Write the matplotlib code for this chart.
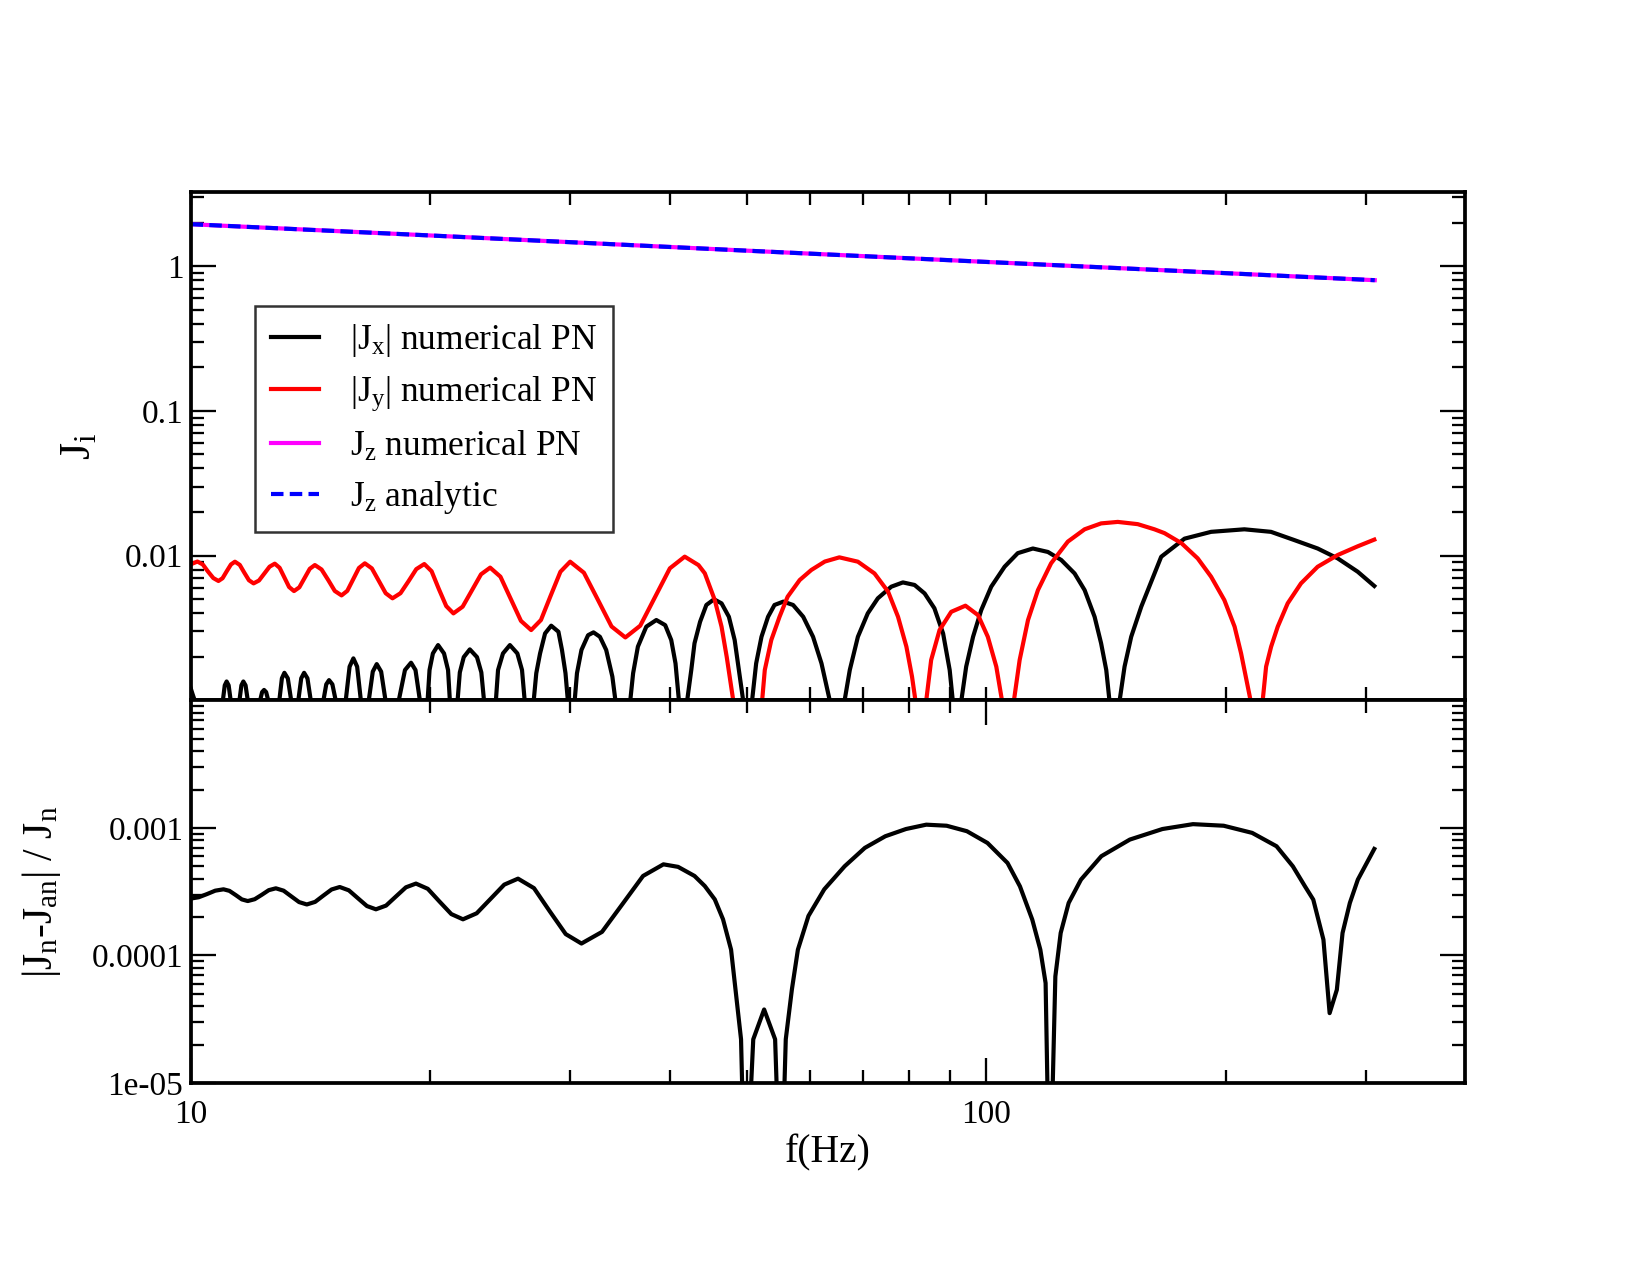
import matplotlib
matplotlib.use('Agg')
import matplotlib.pyplot as plt
from matplotlib.ticker import FixedLocator, NullFormatter

plt.rcParams['font.family'] = ['Liberation Serif', 'DejaVu Serif']
plt.rcParams['mathtext.fontset'] = 'custom'
plt.rcParams['mathtext.rm'] = 'Liberation Serif'
plt.rcParams['mathtext.it'] = 'Liberation Serif:italic'
plt.rcParams['mathtext.bf'] = 'Liberation Serif:bold'

# ---------------- data ----------------
jz_f = [10.0, 20.0, 50.0, 100.0, 200.0, 308.0]
jz_num = [1.95, 1.63, 1.28, 1.07, 0.895, 0.80]
jz_an = [1.95, 1.63, 1.28, 1.07, 0.895, 0.80]

# |Jx| numerical PN (values below 1e-3 fall outside the panel)
jx_f = [10.0, 10.06, 10.12, 10.55,
        10.98, 11.04, 11.10, 11.165, 11.23, 11.37,
        11.52, 11.585, 11.65, 11.725, 11.80, 12.0,
        12.23, 12.30, 12.37, 12.445, 12.52, 12.72,
        12.93, 13.025, 13.12, 13.25, 13.38, 13.52,
        13.66, 13.775, 13.89, 14.025, 14.16, 14.42,
        14.69, 14.81, 14.93, 15.075, 15.22, 15.44,
        15.67, 15.845, 16.02, 16.195, 16.37, 16.56,
        16.75, 16.945, 17.14, 17.36, 17.58, 17.92,
        18.27, 18.6, 18.93, 19.175, 19.42, 19.64,
        19.86, 19.97, 20.165, 20.47, 20.825, 21.07, 21.18, 21.42,
        21.66, 21.80, 22.05, 22.44, 22.91, 23.20, 23.38, 23.78,
        24.2, 24.35, 24.7, 25.2, 25.75, 26.1, 26.3, 26.65,
        27.0, 27.2, 27.5, 27.9, 28.4, 29.0, 29.3, 29.6, 29.8, 30.1,
        30.4, 30.6, 31.0, 31.6, 32.1, 32.7, 33.3, 33.9, 34.2, 34.9,
        35.7, 36.0, 36.5, 37.4, 38.5, 39.5, 40.2, 40.7, 41.1, 41.6,
        42.1, 42.6, 43.0, 43.7, 44.5, 45.5, 46.5, 47.5, 48.3, 48.9, 49.5, 50.1,
        50.8, 51.4, 52.2, 53.2, 54.2, 55.6, 57.2, 58.9, 60.6, 62.1, 63.6, 65.0,
        66.4, 67.4, 69.0, 71.0, 73.1, 76.0, 78.6, 81.3, 83.7, 86.1, 88.3, 90.0, 90.8, 91.9,
        93.1, 94.4, 96.3, 98.6, 101.5, 105.5, 109.6, 114.5, 119.6, 124.3, 129.2, 133.0,
        136.9, 139.5, 141.6, 142.9, 145.0,
        147.2, 149.3, 152.2, 156.7, 162.8, 166.0, 177.6, 191.8, 211.2, 228.1, 244.1,
        261.1, 276.7, 293.2, 307.6]
jx_v = [1.22e-3, 1.1e-3, 1.0e-3, 3e-4,
        1e-3, 1.27e-3, 1.35e-3, 1.27e-3, 1e-3, 3e-4,
        1e-3, 1.27e-3, 1.35e-3, 1.27e-3, 1e-3, 3e-4,
        1e-3, 1.14e-3, 1.18e-3, 1.14e-3, 1e-3, 3e-4,
        1e-3, 1.42e-3, 1.55e-3, 1.42e-3, 1e-3, 3e-4,
        1e-3, 1.42e-3, 1.55e-3, 1.42e-3, 1e-3, 3e-4,
        1e-3, 1.29e-3, 1.38e-3, 1.29e-3, 1e-3, 3e-4,
        1e-3, 1.71e-3, 1.95e-3, 1.71e-3, 1e-3, 3e-4,
        1e-3, 1.58e-3, 1.78e-3, 1.58e-3, 1e-3, 3e-4,
        1e-3, 1.62e-3, 1.82e-3, 1.62e-3, 1e-3, 3e-4,
        1e-3, 1.62e-3, 2.11e-3, 2.41e-3, 2.11e-3, 1.62e-3, 1e-3, 3e-4,
        1e-3, 1.56e-3, 1.99e-3, 2.25e-3, 1.99e-3, 1.56e-3, 1e-3, 3e-4,
        1e-3, 1.62e-3, 2.11e-3, 2.41e-3, 2.11e-3, 1.62e-3, 1e-3, 3e-4,
        1e-3, 1.54e-3, 2.11e-3, 2.90e-3, 3.28e-3, 2.98e-3, 2.23e-3, 1.54e-3, 1e-3, 3e-4,
        1e-3, 1.54e-3, 2.23e-3, 2.82e-3, 2.95e-3, 2.75e-3, 2.23e-3, 1.46e-3, 1e-3, 3e-4,
        1e-3, 1.54e-3, 2.35e-3, 3.23e-3, 3.59e-3, 3.31e-3, 2.61e-3, 1.80e-3, 1e-3, 3e-4,
        1e-3, 1.62e-3, 2.48e-3, 3.49e-3, 4.56e-3, 4.99e-3, 4.68e-3, 3.78e-3, 2.61e-3, 1.62e-3, 1e-3, 3e-4,
        1e-3, 1.80e-3, 2.75e-3, 3.78e-3, 4.56e-3, 4.81e-3, 4.56e-3, 3.78e-3, 2.75e-3, 1.80e-3, 1e-3, 3e-4,
        1e-3, 1.62e-3, 2.75e-3, 3.99e-3, 5.07e-3, 6.10e-3, 6.53e-3, 6.27e-3, 5.48e-3, 4.33e-3, 2.90e-3, 1.62e-3, 1e-3, 3e-4,
        1e-3, 1.71e-3, 2.75e-3, 4.20e-3, 6.10e-3, 8.38e-3, 1.04e-2, 1.12e-2, 1.06e-2, 9.33e-3, 7.53e-3, 5.78e-3,
        3.78e-3, 2.48e-3, 1.62e-3, 1e-3, 3e-4,
        1e-3, 1.71e-3, 2.75e-3, 4.44e-3, 7.53e-3, 9.82e-3, 1.31e-2, 1.46e-2, 1.52e-2, 1.46e-2, 1.28e-2,
        1.12e-2, 9.57e-3, 7.74e-3, 6.17e-3]

# |Jy| numerical PN
jy_f = [10.0, 10.2, 10.36, 10.51, 10.68, 10.84, 10.97, 11.10, 11.24, 11.37,
        11.53, 11.68, 11.84, 12.0, 12.19, 12.38, 12.57, 12.76, 12.94, 13.12,
        13.30, 13.49, 13.70, 13.91, 14.12, 14.33, 14.61, 14.90, 15.18, 15.48,
        15.74, 16.01, 16.28, 16.56, 16.90, 17.24, 17.59, 17.94, 18.36, 18.79,
        19.22, 19.67, 20.09, 20.51, 20.96, 21.4, 21.98, 22.57, 23.18, 23.8,
        24.52, 25.26, 26.02, 26.8, 27.57, 28.35, 29.17, 30.0, 31.22, 32.50,
        33.82, 35.2, 36.75, 38.36, 40.04, 41.8, 43.5, 44.3, 45.6, 46.5, 47.2, 48.1,
        50.2, 52.3, 52.7, 53.7, 55.0, 56.3, 58.3, 60.3, 62.7, 65.4, 69.0, 72.4,
        75.3, 77.5, 79.4, 80.7, 81.5, 82.8,
        84.1, 85.3, 87.4, 90.4, 94.2, 97.7, 100.5, 103.0, 104.7, 106.6,
        108.4, 110.2, 112.9, 116.2, 120.7, 126.7, 133.0, 139.5, 146.4, 155.1,
        162.8, 167.6, 176.0, 184.5, 191.8, 199.3, 205.3, 209.2, 213.3, 215.0, 218.8,
        222.7, 224.9, 228.2, 232.6, 239.4, 248.8, 261.1, 276.7, 293.2, 307.6]
jy_v = [8.7e-3, 9.1e-3, 8.69e-3, 7.80e-3, 7.00e-3, 6.68e-3, 6.98e-3, 7.78e-3, 8.69e-3, 9.08e-3,
        8.63e-3, 7.64e-3, 6.76e-3, 6.43e-3, 6.73e-3, 7.52e-3, 8.39e-3, 8.8e-3, 8.24e-3, 7.07e-3,
        6.07e-3, 5.69e-3, 6.04e-3, 7.00e-3, 8.11e-3, 8.61e-3, 8.02e-3, 6.76e-3, 5.70e-3, 5.31e-3,
        5.71e-3, 6.85e-3, 8.22e-3, 8.85e-3, 8.16e-3, 6.70e-3, 5.50e-3, 5.07e-3, 5.50e-3, 6.65e-3,
        8.07e-3, 8.75e-3, 7.80e-3, 5.90e-3, 4.48e-3, 3.99e-3, 4.44e-3, 5.74e-3, 7.43e-3, 8.26e-3,
        7.15e-3, 5.02e-3, 3.54e-3, 3.06e-3, 3.59e-3, 5.27e-3, 7.74e-3, 9.08e-3, 7.62e-3, 4.97e-3,
        3.24e-3, 2.72e-3, 3.28e-3, 5.18e-3, 8.17e-3, 9.84e-3, 8.6e-3, 7.55e-3, 4.93e-3, 3.23e-3, 2.0e-3, 1e-3,
        2e-4, 1e-3, 1.62e-3, 2.61e-3, 3.78e-3, 5.2e-3, 6.78e-3, 7.96e-3, 9.1e-3, 9.73e-3, 9.08e-3, 7.53e-3,
        5.64e-3, 3.78e-3, 2.35e-3, 1.46e-3, 1e-3, 2e-4,
        1e-3, 1.90e-3, 3.06e-3, 4.09e-3, 4.51e-3, 3.88e-3, 2.75e-3, 1.71e-3, 1e-3, 2e-4,
        1e-3, 1.90e-3, 3.59e-3, 5.78e-3, 8.85e-3, 1.25e-2, 1.52e-2, 1.67e-2, 1.71e-2, 1.65e-2,
        1.52e-2, 1.43e-2, 1.22e-2, 9.57e-3, 7.15e-3, 4.93e-3, 3.23e-3, 2.11e-3, 1.24e-3, 1e-3, 2e-4,
        1e-3, 1.71e-3, 2.35e-3, 3.23e-3, 4.68e-3, 6.43e-3, 8.38e-3, 1.01e-2, 1.16e-2, 1.29e-2]

# |Jn - Jan| / Jn
err_f = [10.0, 10.24, 10.49, 10.74, 11.0, 11.19, 11.40, 11.60, 11.8, 12.04,
         12.29, 12.54, 12.8, 13.09, 13.39, 13.69, 14.0, 14.34, 14.68, 15.04,
         15.4, 15.81, 16.23, 16.66, 17.1, 17.61, 18.12, 18.65, 19.2, 19.87,
         20.55, 21.27, 22.0, 22.89, 23.82, 24.79, 25.8, 27.02, 28.28, 29.62,
         31.0, 32.90, 34.91, 37.05, 39.3, 41.0, 43.0, 44.3, 45.6, 46.7, 47.8, 49.2,
         49.8, 50.97, 52.6, 54.3, 55.2, 56.0, 57.0, 58.0, 59.8, 62.6, 66.4, 70.4,
         74.7, 79.3, 84.1, 89.2, 94.6, 100.4, 106.4, 110.3, 114.3, 117.0, 118.8, 120.2,
         122.2, 124.1, 127.0, 131.6, 139.6, 151.6, 166.6, 182.0, 198.9, 216.0, 231.8, 243.0,
         251.7, 257.8, 265.5, 270.3, 276.0, 280.6, 286.6, 293.3, 307.6]
err_v = [2.79e-4, 2.86e-4, 3.03e-4, 3.22e-4, 3.30e-4, 3.21e-4, 2.97e-4, 2.75e-4, 2.67e-4, 2.76e-4,
         2.99e-4, 3.25e-4, 3.36e-4, 3.22e-4, 2.90e-4, 2.62e-4, 2.51e-4, 2.63e-4, 2.94e-4, 3.29e-4,
         3.44e-4, 3.24e-4, 2.81e-4, 2.44e-4, 2.30e-4, 2.46e-4, 2.90e-4, 3.42e-4, 3.66e-4, 3.33e-4,
         2.65e-4, 2.11e-4, 1.92e-4, 2.14e-4, 2.77e-4, 3.59e-4, 4.0e-4, 3.37e-4, 2.22e-4, 1.47e-4,
         1.24e-4, 1.53e-4, 2.53e-4, 4.2e-4, 5.18e-4, 4.95e-4, 4.2e-4, 3.5e-4, 2.75e-4, 1.92e-4, 1.11e-4, 2.2e-5,
         1e-6, 2.2e-5, 3.77e-5, 2.2e-5, 1e-6, 2.2e-5, 5.41e-5, 1.11e-4, 2.04e-4, 3.3e-4, 5.0e-4, 6.97e-4,
         8.6e-4, 9.8e-4, 1.06e-3, 1.04e-3, 9.42e-4, 7.62e-4, 5.31e-4, 3.48e-4, 1.91e-4, 1.11e-4, 6.07e-5, 1e-6,
         6.85e-5, 1.5e-4, 2.58e-4, 3.93e-4, 6.0e-4, 8.1e-4, 9.8e-4, 1.07e-3, 1.04e-3, 9.14e-4, 7.18e-4, 5.0e-4,
         3.48e-4, 2.74e-4, 1.33e-4, 3.53e-5, 5.38e-5, 1.5e-4, 2.58e-4, 3.93e-4, 6.84e-4]

legend_labels = [r'$|\mathrm{J_x}|$ numerical PN', r'$|\mathrm{J_y}|$ numerical PN',
                 r'$\mathrm{J_z}$ numerical PN', r'$\mathrm{J_z}$ analytic']
xtick_major = [10, 100]
xtick_labels = ['10', '100']
xtick_minor = [20, 30, 40, 50, 60, 70, 80, 90, 200, 300]
top_yticks = [0.01, 0.1, 1]
top_ylabels = ['0.01', '0.1', '1']
bot_yticks = [1e-5, 1e-4, 1e-3]
bot_ylabels = ['1e-05', '0.0001', '0.001']

# ---------------- figure ----------------
fig = plt.figure(figsize=(11, 8.5), dpi=150)
ax1 = fig.add_axes([0.1155, 0.4507, 0.7724, 0.3991])
ax2 = fig.add_axes([0.1155, 0.1506, 0.7724, 0.3001])

LW = 2.0
ax1.plot(jx_f, jx_v, color='black', lw=LW, label=legend_labels[0])
ax1.plot(jy_f, jy_v, color='#ff0000', lw=LW, label=legend_labels[1])
ax1.plot(jz_f, jz_num, color='#ff00ff', lw=LW, label=legend_labels[2])
ax1.plot(jz_f, jz_an, color='#0000ff', lw=LW, dashes=(3, 1.5), label=legend_labels[3])
ax2.plot(err_f, err_v, color='black', lw=LW)

for ax in (ax1, ax2):
    ax.set_xscale('log')
    ax.set_yscale('log')
    ax.set_xlim(10, 400)
    ax.xaxis.set_major_locator(FixedLocator(xtick_major))
    ax.xaxis.set_minor_locator(FixedLocator(xtick_minor))
    ax.xaxis.set_minor_formatter(NullFormatter())
    ax.yaxis.set_minor_formatter(NullFormatter())
    for s in ax.spines.values():
        s.set_linewidth(1.8)
    ax.tick_params(which='both', direction='in', top=True, right=True, width=1.1,
                   labelsize=16)
    ax.tick_params(which='major', length=12)
    ax.tick_params(which='minor', length=6.3)

ax1.set_ylim(1e-3, 3.28)
ax1.set_xticklabels([])
ax1.tick_params(axis='x', which='major', length=6.3)
ax1.yaxis.set_major_locator(FixedLocator(top_yticks))
ax1.set_yticklabels(top_ylabels)
ax1.yaxis.set_minor_locator(FixedLocator(
    [k * 1e-3 for k in range(2, 10)] + [k * 1e-2 for k in range(2, 10)] +
    [k * 1e-1 for k in range(2, 10)] + [2, 3]))

ax2.set_ylim(1e-5, 1e-2)
ax2.set_xticks(xtick_major)
ax2.set_xticklabels(xtick_labels)
ax2.yaxis.set_major_locator(FixedLocator(bot_yticks))
ax2.set_yticklabels(bot_ylabels)
ax2.yaxis.set_minor_locator(FixedLocator(
    [k * 1e-5 for k in range(2, 10)] + [k * 1e-4 for k in range(2, 10)] +
    [k * 1e-3 for k in range(2, 10)]))
ax2.tick_params(axis='x', which='major', pad=8)

ax1.set_ylabel(r'$\mathrm{J_i}$', fontsize=21)
ax1.yaxis.set_label_coords(-0.072, 0.5)
ax2.set_ylabel(r'|$\mathrm{J_n}$-$\mathrm{J_{an}}$| / $\mathrm{J_n}$', fontsize=20)
ax2.yaxis.set_label_coords(-0.100, 0.5)
ax2.set_xlabel('f(Hz)', fontsize=19)
ax2.xaxis.set_label_coords(0.5, -0.135)

leg = ax1.legend(loc='upper left', bbox_to_anchor=(0.0504, 0.775), borderaxespad=0,
                 fontsize=17, frameon=True, fancybox=False, edgecolor='black',
                 handlelength=1.35, handletextpad=0.9, labelspacing=0.45,
                 borderpad=0.45)
leg.get_frame().set_linewidth(1.2)

fig.savefig('out.png', dpi=150)
